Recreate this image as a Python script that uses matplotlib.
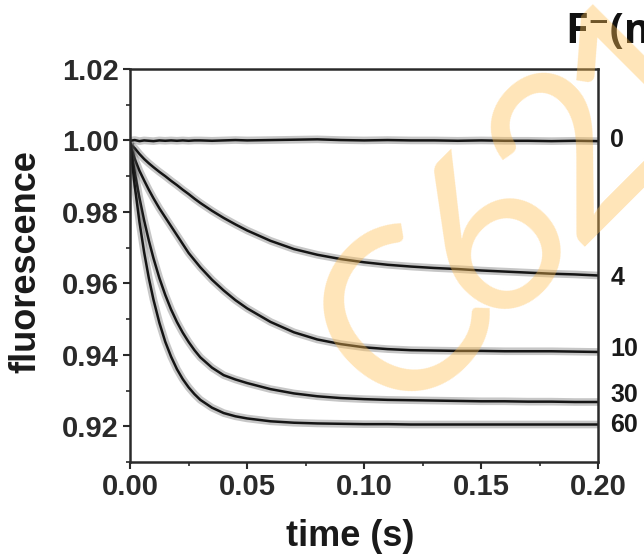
import matplotlib
matplotlib.use("Agg")
import matplotlib.pyplot as plt
from matplotlib.ticker import MultipleLocator

# stopped-flow traces, fluorescence vs time for several F- concentrations
time_s = [0, 0.002, 0.004, 0.006, 0.008, 0.01, 0.0125, 0.015, 0.0175, 0.02, 0.0225,
          0.025, 0.0275, 0.03, 0.035, 0.04, 0.045, 0.05, 0.06, 0.07, 0.08, 0.09,
          0.10, 0.11, 0.12, 0.13, 0.14, 0.15, 0.16, 0.17, 0.18, 0.19, 0.20]

f_0 = [0.9999, 1.0001, 0.9998, 1.0000, 0.9999, 0.9998, 1.0000, 0.9999, 1.0000, 0.9999, 1.0000,
       0.9999, 1.0000, 1.0000, 0.9999, 1.0000, 1.0001, 1.0000, 1.0001, 1.0002, 1.0003, 1.0001,
       1.0000, 1.0001, 1.0000, 1.0000, 0.9999, 1.0000, 0.9999, 0.9999, 0.9998, 0.9999, 0.9998]
f_4 = [0.999, 0.9978, 0.9962, 0.9948, 0.9936, 0.9925, 0.9912, 0.99, 0.9887, 0.9875, 0.9862,
       0.985, 0.9837, 0.9825, 0.9803, 0.9783, 0.9765, 0.9748, 0.9719, 0.9696, 0.968, 0.9668,
       0.9659, 0.9652, 0.9647, 0.9643, 0.964, 0.9636, 0.9633, 0.963, 0.9627, 0.9625, 0.9622]
f_10 = [0.999, 0.9948, 0.9915, 0.9888, 0.9862, 0.9838, 0.981, 0.9785, 0.976, 0.9735, 0.971,
        0.9685, 0.9665, 0.9645, 0.961, 0.958, 0.9553, 0.953, 0.9492, 0.9463, 0.9443, 0.943,
        0.9421, 0.9416, 0.9413, 0.9412, 0.9411, 0.9411, 0.941, 0.941, 0.941, 0.9409, 0.9408]
f_30 = [0.999, 0.991, 0.9839, 0.9776, 0.972, 0.967, 0.9615, 0.9568, 0.9527, 0.9492, 0.9462,
        0.9436, 0.9413, 0.9393, 0.9364, 0.9343, 0.9331, 0.9321, 0.9304, 0.9292, 0.9284, 0.9279,
        0.9276, 0.9274, 0.9273, 0.9272, 0.9271, 0.927, 0.927, 0.9269, 0.9269, 0.9268, 0.9268]
f_60 = [0.999, 0.9872, 0.9772, 0.9687, 0.9615, 0.9554, 0.949, 0.9437, 0.9395, 0.936, 0.9332,
        0.9309, 0.929, 0.9274, 0.9252, 0.9237, 0.9228, 0.9222, 0.9214, 0.921, 0.9208, 0.9207,
        0.9206, 0.9206, 0.9205, 0.9205, 0.9205, 0.9205, 0.9205, 0.9205, 0.9205, 0.9205, 0.9205]

series = [f_0, f_4, f_10, f_30, f_60]
conc_labels = ["0", "4", "10", "30", "60"]
label_y = [1.0, 0.9615, 0.9415, 0.9288, 0.9204]

fig = plt.figure(figsize=(6.44, 5.56), dpi=100)
ax = fig.add_axes([0.202, 0.169, 0.727, 0.707])

for f in series:
    ax.plot(time_s, f, color="#444444", lw=5.5, alpha=0.3, solid_capstyle="butt")
    ax.plot(time_s, f, color="#151515", lw=1.8)

ax.set_xlim(0, 0.2)
ax.set_ylim(0.91, 1.02)
ax.xaxis.set_major_locator(MultipleLocator(0.05))
ax.xaxis.set_minor_locator(MultipleLocator(0.025))
ax.yaxis.set_major_locator(MultipleLocator(0.02))
ax.yaxis.set_minor_locator(MultipleLocator(0.01))
ax.xaxis.set_major_formatter(lambda v, p: f"{v:.2f}")
ax.yaxis.set_major_formatter(lambda v, p: f"{v:.2f}")

for s in ax.spines.values():
    s.set_linewidth(1.8)
    s.set_color("#2a2a2a")

ax.tick_params(which="major", direction="out", length=5, width=1.5, color="#2a2a2a",
               pad=3, labelcolor="#2a2a2a", labelsize=21)
ax.tick_params(which="minor", direction="out", length=3, width=1.2, color="#2a2a2a")
ax.tick_params(top=False, right=False, which="both")
for lab in ax.get_xticklabels() + ax.get_yticklabels():
    lab.set_fontfamily("Liberation Sans")
    lab.set_fontweight("bold")

ax.set_xlabel("time (s)", fontsize=26, fontweight="bold", family="Liberation Sans",
              color="#1a1a1a")
ax.set_ylabel("fluorescence", fontsize=26, fontweight="bold", family="Liberation Sans",
              color="#1a1a1a")
ax.xaxis.set_label_coords(0.47, -0.145)
ax.yaxis.set_label_coords(-0.185, 0.51)

# concentration labels at the right edge
for lab, yv in zip(conc_labels, label_y):
    ax.text(1.026, yv, lab, transform=ax.get_yaxis_transform(), ha="left", va="center",
            fontsize=18, fontweight="bold", family="Liberation Sans", color="#1a1a1a",
            clip_on=False)

fig.text(565 / 644, 1 - 43 / 556, "F⁻(mM)", fontsize=30, fontweight="bold",
         family=["Open Sans", "DejaVu Sans"], color="#111111", va="baseline", ha="left")

# watermark, one glyph at a time (tight spacing)
wm_chars = ["C", "6", "2", "1"]
wm_xy = [(406, 322), (492, 236), (575, 154), (645, 74)]
for ch, (px, py) in zip(wm_chars, wm_xy):
    fig.text(px / 644, 1 - py / 556, ch, fontsize=165, family="Lato", color="#ffbe50",
             alpha=0.4, rotation=45, rotation_mode="anchor", ha="center", va="center",
             zorder=10)

fig.savefig("out.png", dpi=100)
